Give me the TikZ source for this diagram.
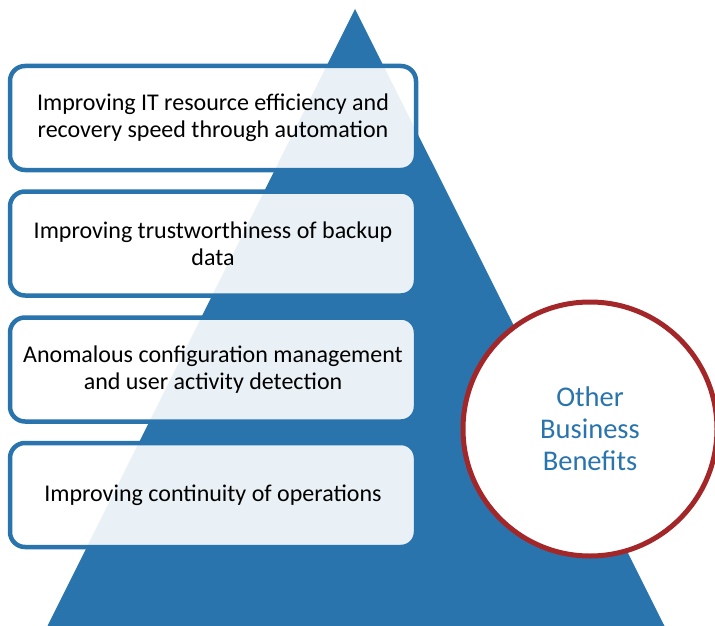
\documentclass[tikz,border=0pt]{standalone}
\usepackage{fontspec}
\setmainfont{Carlito}
\usetikzlibrary{calc}
\definecolor{pyrblue}{RGB}{42,116,173}
\definecolor{ringred}{RGB}{163,38,41}

\tikzset{
  benefit/.style={draw=pyrblue,line width=4.5pt,fill=white,fill opacity=.9,
    text opacity=1,rounded corners=15pt,minimum width=406pt,minimum height=104pt,
    align=center,font=\fontsize{24}{27}\selectfont},
  other/.style={circle,draw=ringred,line width=5pt,fill=white,minimum size=254pt,
    inner sep=0pt,align=center,text=pyrblue,font=\fontsize{28.5}{32}\selectfont}
}

\begin{document}
\begin{tikzpicture}[x=1pt,y=-1pt]
      \useasboundingbox (0,0) rectangle (715,626);
      % pyramid behind everything
      \coordinate(T) at (355,9);
      \coordinate(L) at (47,627);
      \coordinate(R) at (665,627);
      \fill[pyrblue](T)--(L)--(R)--cycle;
      % the four boxes down the left side
      \foreach \yy/\nm/\txt in {%
        118/b1/{Improving IT resource efficiency and\\recovery speed through automation},
        243.5/b2/{Improving trustworthiness of backup\\data},
        369.5/b3/{Anomalous configuration management\\and user activity detection},
        495/b4/{Improving continuity of operations}}{%
          \node[benefit](\nm) at (213,\yy) {\txt};
        }
      \node[other](ob) at (590,429) {Other\\Business\\Benefits};
    \end{tikzpicture}
\end{document}
